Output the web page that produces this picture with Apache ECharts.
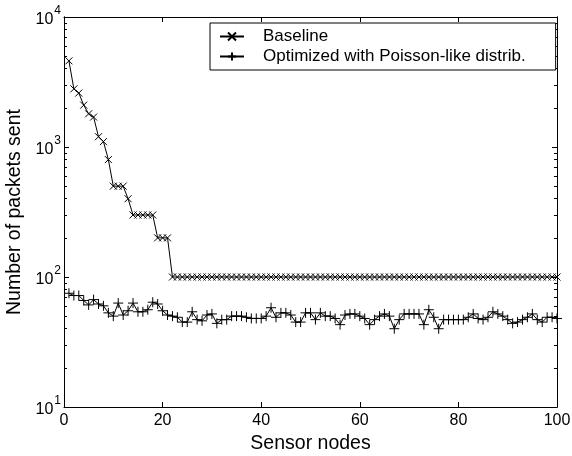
<!DOCTYPE html>
<html><head><meta charset="utf-8">
<script src="https://cdn.jsdelivr.net/npm/echarts@6/dist/echarts.min.js"></script>
<style>html,body{margin:0;padding:0;background:#fff}#c{width:572px;height:456px}</style>
</head><body><div id="c"></div>
<script>
const nodes = [1,2,3,4,5,6,7,8,9,10,11,12,13,14,15,16,17,18,19,20,
21,22,23,24,25,26,27,28,29,30,31,32,33,34,35,36,37,38,39,40,
41,42,43,44,45,46,47,48,49,50,51,52,53,54,55,56,57,58,59,60,
61,62,63,64,65,66,67,68,69,70,71,72,73,74,75,76,77,78,79,80,
81,82,83,84,85,86,87,88,89,90,91,92,93,94,95,96,97,98,99,100];
const baseline = [4600,2800,2600,2100,1800,1700,1200,1100,800,500,
500,500,400,300,300,300,300,300,200,200,
200,100,100,100,100,100,100,100,100,100,
100,100,100,100,100,100,100,100,100,100,
100,100,100,100,100,100,100,100,100,100,
100,100,100,100,100,100,100,100,100,100,
100,100,100,100,100,100,100,100,100,100,
100,100,100,100,100,100,100,100,100,100,
100,100,100,100,100,100,100,100,100,100,
100,100,100,100,100,100,100,100,100,100];
const optimized = [75,72,72,66,61,67,62,60,53,50,
63,51,55,63,54,54,56,64,62,55,
51,50,49,45,45,54,47,46,51,52,
44,47,47,50,50,50,49,48,48,48,
50,58,49,53,53,51,45,45,53,53,
47,53,50,50,48,43,51,52,52,50,
48,43,47,50,52,50,40,47,52,52,
52,52,43,56,49,40,47,47,47,47,
47,49,52,48,47,49,54,52,50,47,
44,45,47,49,52,47,45,49,49,48];
const xTicks = [0,20,40,60,80,100];
const yMajor = [10,100,1000,10000];
const yMinor = [20,30,40,50,60,70,80,90,200,300,400,500,600,700,800,900,2000,3000,4000,5000,6000,7000,8000,9000];
const seriesNames = ['Baseline','Optimized with Poisson-like distrib.'];

const FF = '"Liberation Sans", Arial, sans-serif';
const chart = echarts.init(document.getElementById('c'), null, {renderer:'canvas'});
const exps = {10:'1',100:'2',1000:'3',10000:'4'};
function yAxisDef(pos, ticks, len, labels) {
  return {
    type:'log', logBase:10, min:10, max:10000, position:pos,
    axisLine:{show:true, lineStyle:{color:'#000', width:1}},
    axisTick:{show:true, inside:true, length:len, customValues:ticks, lineStyle:{color:'#000', width:1}},
    axisLabel: labels ? {
      show:true, customValues:yMajor, margin:3,
      formatter: v => '{b|10}{s|' + exps[Math.round(v)] + '}',
      rich:{
        b:{fontFamily:FF, fontSize:16, color:'#000', padding:[6,0,0,0]},
        s:{fontFamily:FF, fontSize:12, color:'#000', verticalAlign:'bottom', padding:[0,0,12,1]}
      }
    } : {show:false},
    splitLine:{show:false},
    name: labels ? 'Number of packets sent' : '',
    nameLocation:'middle', nameGap:35,
    nameTextStyle:{fontFamily:FF, fontSize:19.5, color:'#000'}
  };
}
function xAxisDef(pos, labels) {
  return {
    type:'value', min:0, max:100, interval:20, position:pos,
    axisLine:{show:true, onZero:false, lineStyle:{color:'#000', width:1}},
    axisTick:{show:true, inside:true, length:5, lineStyle:{color:'#000', width:1}},
    axisLabel: labels ? {show:true, fontFamily:FF, fontSize:16, color:'#000', margin:6} : {show:false},
    splitLine:{show:false},
    name: labels ? 'Sensor nodes' : '',
    nameLocation:'middle', nameGap:24,
    nameTextStyle:{fontFamily:FF, fontSize:19.5, color:'#000'}
  };
}
const crossPath = 'path://M0,0L10,10M0,10L10,0';
const plusPath = 'path://M5,0L5,10M0,5L10,5';
chart.setOption({
  animation:false,
  backgroundColor:'#fff',
  grid:{left:64, right:15, top:17, bottom:49, containLabel:false, outerBoundsMode:'none'},
  xAxis:[xAxisDef('bottom', true), xAxisDef('top', false)],
  yAxis:[yAxisDef('left', yMajor, 5, true), yAxisDef('left', yMinor, 3, false),
         yAxisDef('right', yMajor, 5, false), yAxisDef('right', yMinor, 3, false)],
  legend:{
    orient:'vertical', left:210, top:23,
    itemWidth:24, itemHeight:10, itemGap:3,
    padding:[5,30,5,9],
    borderColor:'#000', borderWidth:1, backgroundColor:'#fff',
    textStyle:{fontFamily:FF, fontSize:17, color:'#000'},
    formatter: n => '{t|' + n + '}',
    data: seriesNames
  },
  series:[
    {
      name:seriesNames[0], type:'line', xAxisIndex:0, yAxisIndex:0,
      data: nodes.map((x,i)=>[x, baseline[i]]),
      symbol:crossPath, symbolSize:7, showAllSymbol:true,
      lineStyle:{color:'#000', width:1},
      itemStyle:{color:'#000', borderColor:'#000', borderWidth:1},
      z:3
    },
    {
      name:seriesNames[1], type:'line', xAxisIndex:0, yAxisIndex:0,
      data: nodes.map((x,i)=>[x, optimized[i]]),
      symbol:plusPath, symbolSize:10, showAllSymbol:true,
      lineStyle:{color:'#000', width:1},
      itemStyle:{color:'#000', borderColor:'#000', borderWidth:1},
      z:2
    }
  ]
});
chart.setOption({legend:{textStyle:{rich:{t:{fontFamily:FF, fontSize:17, color:'#000', padding:[0,0,0,14]}}}}});
</script></body></html>
